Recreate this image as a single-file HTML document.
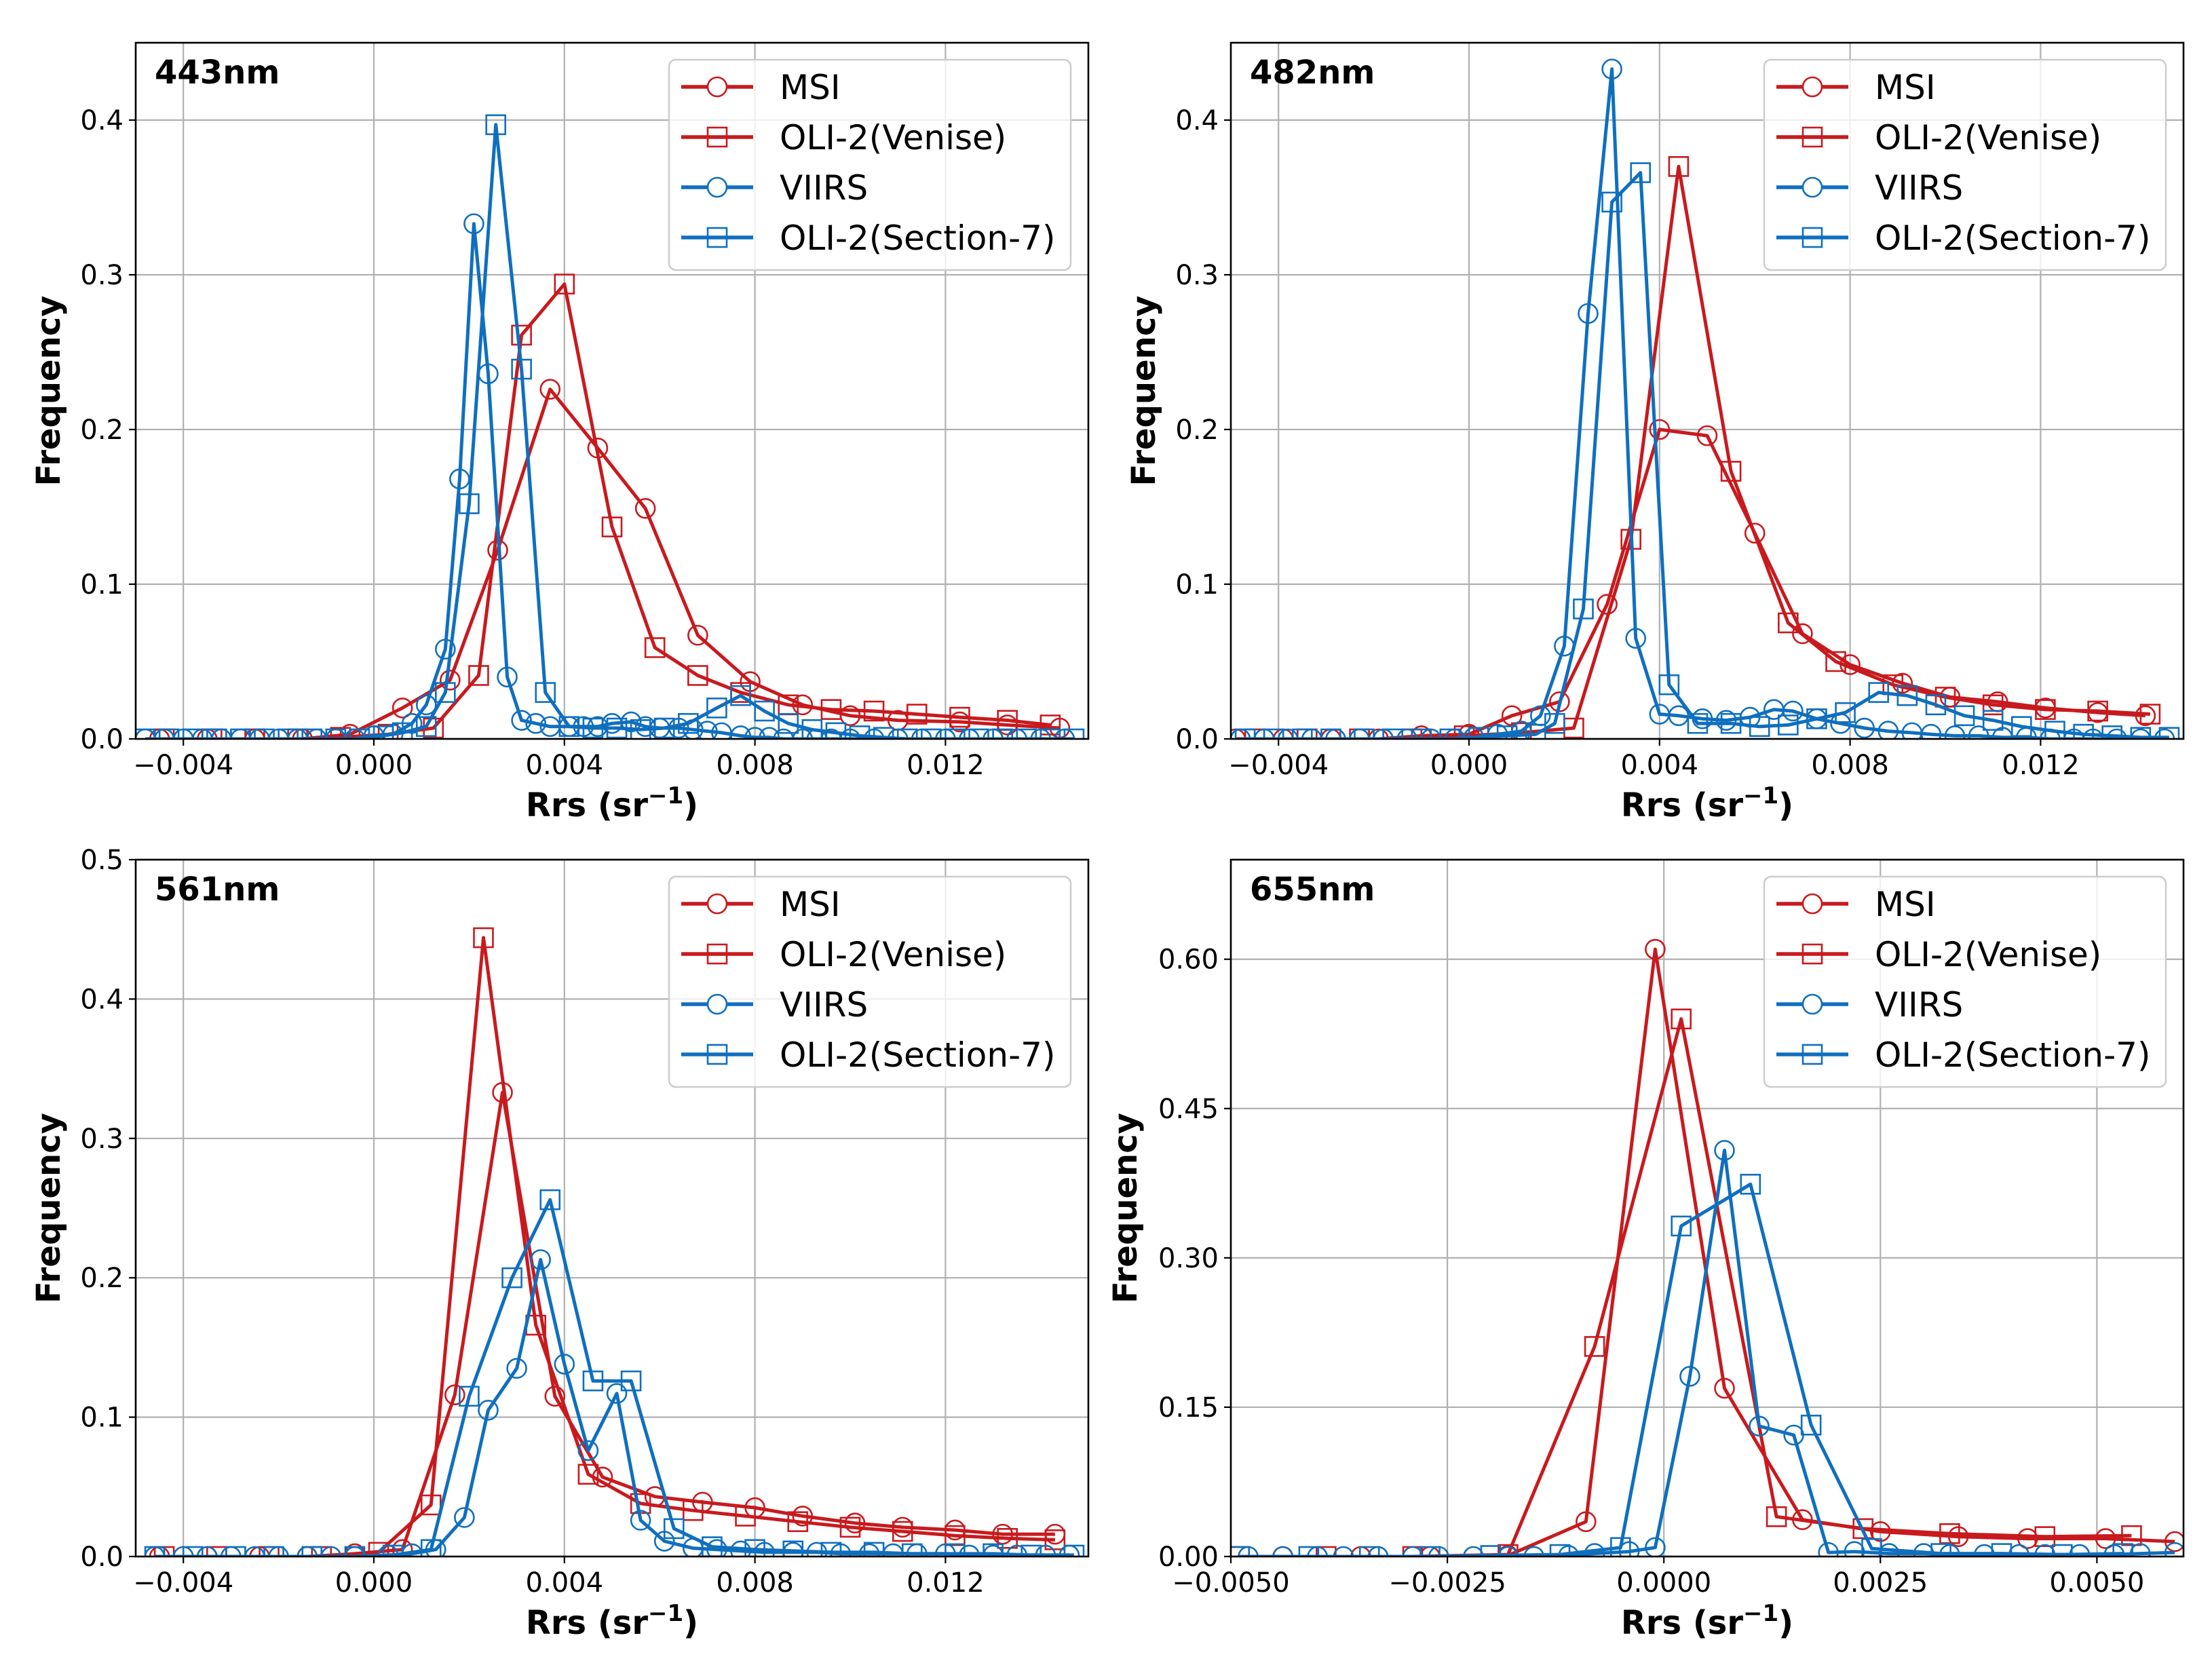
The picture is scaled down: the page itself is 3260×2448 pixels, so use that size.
<!DOCTYPE html>
<html><head><meta charset="utf-8">
<style>
html,body{margin:0;padding:0;background:#fff;}
svg{display:block;font-family:"DejaVu Sans","Liberation Sans",sans-serif;}
</style></head>
<body>
<svg id="fig" xmlns="http://www.w3.org/2000/svg" width="3260" height="2448" viewBox="0 0 3260 2448">
<rect x="0" y="0" width="3260" height="2448" fill="#fff"/>
</svg>
<script>
// ---------- Panel 1: 443nm ----------
const p1MsiX=[-0.0045,-0.0035,-0.0025,-0.0015,-0.0005,0.0006,0.0016,0.0026,0.0037,0.0047,0.0057,0.0068,0.0079,0.009,0.010,0.011,0.0123,0.0133,0.0144];
const p1MsiY=[0,0,0,0,0.003,0.020,0.038,0.122,0.226,0.188,0.149,0.067,0.037,0.022,0.015,0.012,0.011,0.009,0.007];
const p1VenX=[-0.0044,-0.0034,-0.0025,-0.0016,-0.0007,0.0003,0.00125,0.0022,0.0031,0.004,0.005,0.0059,0.0068,0.0077,0.0087,0.0096,0.0105,0.0114,0.0123,0.0133,0.0142];
const p1VenY=[0,0,0,0,0.001,0.003,0.007,0.041,0.261,0.294,0.137,0.059,0.041,0.030,0.022,0.019,0.018,0.016,0.014,0.012,0.009];
const p1ViiX=[-0.0048,-0.0044,-0.004,-0.0036,-0.0032,-0.0028,-0.0024,-0.002,-0.0016,-0.0012,-0.0008,-0.0004,0,0.0004,0.0008,0.0011,0.0015,0.0018,0.0021,0.0024,0.0028,0.0031,0.0034,0.0037,0.0041,0.0044,0.0047,0.005,0.0054,0.0057,0.006,0.0064,0.0067,0.007,0.0073,0.0077,0.008,0.0083,0.0086,0.009,0.0093,0.0096,0.01,0.0105,0.011,0.0115,0.012,0.0125,0.013,0.0135,0.014,0.0145];
const p1ViiY=[0,0,0,0,0,0,0,0,0,0,0,0,0.002,0.003,0.01,0.022,0.058,0.168,0.333,0.236,0.040,0.012,0.010,0.008,0.008,0.008,0.008,0.010,0.011,0.008,0.007,0.007,0.006,0.005,0.004,0.002,0.001,0.001,0,0,0,0,0,0,0,0,0,0,0,0,0,0];
const p1SecX=[-0.0048,-0.0043,-0.0038,-0.0033,-0.0028,-0.0023,-0.0018,-0.0013,-0.0008,-0.0003,0.0002,0.0006,0.0011,0.0015,0.002,0.00256,0.0031,0.0036,0.0041,0.0046,0.0051,0.0056,0.0061,0.0066,0.0072,0.0077,0.0082,0.0087,0.0092,0.0097,0.0102,0.0107,0.0112,0.0117,0.0122,0.0127,0.0132,0.0137,0.0142,0.0147];
const p1SecY=[0,0,0,0,0,0,0,0,0,0,0.002,0.004,0.008,0.030,0.152,0.397,0.239,0.030,0.008,0.007,0.007,0.006,0.007,0.010,0.020,0.028,0.018,0.010,0.006,0.004,0.002,0.001,0,0,0,0,0,0,0,0];
// ---------- Panel 2: 482nm ----------
const p2MsiX=[-0.0049,-0.0039,-0.0029,-0.0019,-0.001,0,0.0009,0.0019,0.0029,0.004,0.005,0.006,0.007,0.008,0.0091,0.0101,0.0111,0.0121,0.0132,0.0142];
const p2MsiY=[0,0,0,0,0.002,0.003,0.015,0.024,0.087,0.200,0.196,0.133,0.068,0.048,0.036,0.027,0.024,0.020,0.017,0.015];
const p2VenX=[-0.0045,-0.0034,-0.0023,-0.0012,-0.0001,0.0011,0.0022,0.0034,0.0044,0.0055,0.0067,0.0077,0.0089,0.01,0.011,0.0121,0.0132,0.0143];
const p2VenY=[0,0,0,0,0.002,0.004,0.007,0.129,0.370,0.173,0.075,0.050,0.035,0.027,0.022,0.019,0.018,0.016];
const p2ViiX=[-0.0048,-0.0043,-0.0038,-0.0033,-0.0028,-0.0023,-0.0018,-0.0013,-0.0008,-0.0003,0.0001,0.0006,0.0011,0.0015,0.002,0.0025,0.003,0.0035,0.004,0.0044,0.0049,0.0054,0.0059,0.0064,0.0068,0.0073,0.0078,0.0083,0.0088,0.0093,0.0097,0.0102,0.0107,0.0112,0.0117,0.0122,0.0127,0.0131,0.0136,0.0141,0.0146];
const p2ViiY=[0,0,0,0,0,0,0,0,0,0,0.001,0.003,0.005,0.015,0.060,0.275,0.433,0.065,0.016,0.015,0.013,0.012,0.014,0.019,0.018,0.013,0.010,0.007,0.005,0.004,0.003,0.002,0.002,0.001,0.001,0,0,0,0,0,0];
const p2SecX=[-0.0047,-0.0041,-0.0035,-0.0029,-0.0022,-0.0016,-0.001,-0.0004,0.0002,0.0008,0.0014,0.0018,0.0024,0.003,0.0036,0.0042,0.0048,0.0055,0.0061,0.0067,0.0073,0.0079,0.0086,0.0092,0.0098,0.0104,0.011,0.0116,0.0123,0.0129,0.0135,0.0141,0.0147];
const p2SecY=[0,0,0,0,0,0,0,0,0.001,0.002,0.003,0.01,0.084,0.347,0.366,0.035,0.010,0.010,0.008,0.009,0.013,0.017,0.030,0.028,0.022,0.015,0.012,0.008,0.005,0.003,0.002,0.001,0.001];
// ---------- Panel 3: 561nm ----------
const p3MsiX=[-0.0045,-0.0035,-0.0024,-0.0014,-0.0004,0.0006,0.0017,0.0027,0.0038,0.0048,0.0059,0.0069,0.008,0.009,0.0101,0.0111,0.0122,0.0132,0.0143];
const p3MsiY=[0,0,0,0,0.002,0.005,0.116,0.333,0.115,0.057,0.043,0.039,0.035,0.029,0.024,0.021,0.019,0.016,0.016];
const p3VenX=[-0.0044,-0.0033,-0.0022,-0.0011,0.0001,0.0012,0.0023,0.0034,0.0045,0.0056,0.0067,0.0078,0.0089,0.01,0.0111,0.0122,0.0133,0.0143];
const p3VenY=[0,0,0,0,0.003,0.037,0.444,0.166,0.059,0.038,0.033,0.029,0.025,0.021,0.018,0.015,0.013,0.012];
const p3ViiX=[-0.0046,-0.004,-0.0035,-0.003,-0.0025,-0.002,-0.0014,-0.0009,-0.0004,0.0003,0.0008,0.0013,0.0019,0.0024,0.003,0.0035,0.004,0.0045,0.0051,0.0056,0.0061,0.0067,0.0072,0.0077,0.0082,0.0088,0.0093,0.0098,0.0104,0.0109,0.0114,0.012,0.0125,0.013,0.0135,0.0141,0.0146];
const p3ViiY=[0,0,0,0,0,0,0,0,0,0.001,0.002,0.005,0.028,0.105,0.135,0.213,0.138,0.076,0.117,0.026,0.011,0.006,0.005,0.004,0.003,0.003,0.003,0.002,0.002,0.002,0.002,0.002,0.001,0.001,0.001,0.001,0.001];
const p3SecX=[-0.0046,-0.0038,-0.0029,-0.0021,-0.0013,-0.0004,0.0004,0.0012,0.002,0.0029,0.0037,0.0046,0.0054,0.0063,0.0071,0.008,0.0088,0.0096,0.0105,0.0113,0.0122,0.013,0.0138,0.0147];
const p3SecY=[0,0,0,0,0,0,0.001,0.005,0.115,0.200,0.256,0.126,0.126,0.020,0.007,0.005,0.004,0.003,0.003,0.002,0.002,0.002,0.001,0.001];
// ---------- Panel 4: 655nm ----------
const p4MsiX=[-0.0044,-0.0035,-0.0027,-0.0018,-0.0009,-0.0001,0.0007,0.0016,0.0025,0.0034,0.0042,0.0051,0.0059];
const p4MsiY=[0,0,0,0.001,0.035,0.610,0.169,0.037,0.025,0.020,0.018,0.018,0.015];
const p4VenX=[-0.0049,-0.0039,-0.0029,-0.0018,-0.0008,0.0002,0.0013,0.0023,0.0033,0.0044,0.0054];
const p4VenY=[0,0,0,0.002,0.211,0.540,0.040,0.028,0.023,0.020,0.021];
const p4ViiX=[-0.0048,-0.0044,-0.004,-0.0037,-0.0033,-0.0029,-0.0026,-0.0022,-0.0018,-0.0015,-0.0011,-0.0008,-0.0004,-0.0001,0.0003,0.0007,0.0011,0.0015,0.0019,0.0022,0.0026,0.003,0.0033,0.0037,0.0041,0.0044,0.0048,0.0052,0.0055,0.0059];
const p4ViiY=[0,0,0,0,0,0,0,0,0,0,0.001,0.003,0.005,0.009,0.181,0.408,0.131,0.122,0.004,0.005,0.003,0.003,0.002,0.002,0.002,0.002,0.002,0.002,0.003,0.004];
const p4SecX=[-0.0049,-0.0041,-0.0034,-0.0027,-0.002,-0.0012,-0.0005,0.0002,0.001,0.0017,0.0024,0.0032,0.0039,0.0046,0.0053];
const p4SecY=[0,0,0,0,0.001,0.002,0.009,0.332,0.374,0.132,0.008,0.003,0.003,0.002,0.003];

const xTicksA=[-0.004,0,0.004,0.008,0.012];
const xTickLabelsA=["\u22120.004","0.000","0.004","0.008","0.012"];
const xTicksB=[-0.005,-0.0025,0,0.0025,0.005];
const xTickLabelsB=["\u22120.0050","\u22120.0025","0.0000","0.0025","0.0050"];
const yTicksA=[0,0.1,0.2,0.3,0.4];
const yTickLabelsA=["0.0","0.1","0.2","0.3","0.4"];
const yTicksC=[0,0.1,0.2,0.3,0.4,0.5];
const yTickLabelsC=["0.0","0.1","0.2","0.3","0.4","0.5"];
const yTicksD=[0,0.15,0.30,0.45,0.60];
const yTickLabelsD=["0.00","0.15","0.30","0.45","0.60"];
const seriesNames=["MSI","OLI-2(Venise)","VIIRS","OLI-2(Section-7)"];

const RED="#c81a1e", BLUE="#0f6fbf";
const NS="http://www.w3.org/2000/svg";
const svg=document.getElementById('fig');
function mk(tag,attrs,parent){const e=document.createElementNS(NS,tag);for(const k in attrs)e.setAttribute(k,attrs[k]);(parent||svg).appendChild(e);return e;}

function panel(cfg){
  const g=mk('g',{});
  
  
  const L=cfg.L,R=cfg.R,T=cfg.T,B=cfg.B;
  const sx=v=>L+(v-cfg.x0)/(cfg.x1-cfg.x0)*(R-L);
  const sy=v=>B-(v-cfg.y0)/(cfg.y1-cfg.y0)*(B-T);
  cfg.xt.forEach((t,i)=>{
    const x=sx(t);
    const gl=mk('line',{x1:x,x2:x,y1:T,y2:B,stroke:"#b0b0b0","stroke-width":2.2},g);
    
    
    mk('line',{x1:x,x2:x,y1:B,y2:B+10,stroke:"#000","stroke-width":2.2},g);
    const tl=mk('text',{x:x,y:B+52,"text-anchor":"middle","font-size":40,fill:"#000"},g);
    tl.textContent=cfg.xl[i];
    
    
  });
  cfg.yt.forEach((t,i)=>{
    const y=sy(t);
    const gl=mk('line',{x1:L,x2:R,y1:y,y2:y,stroke:"#b0b0b0","stroke-width":2.2},g);
    
    
    mk('line',{x1:L-10,x2:L,y1:y,y2:y,stroke:"#000","stroke-width":2.2},g);
    const tl=mk('text',{x:L-18,y:y+14,"text-anchor":"end","font-size":40,fill:"#000"},g);
    tl.textContent=cfg.yl[i];
    
    
  });
  const cid='clip'+cfg.id;
  const cp=mk('clipPath',{id:cid},g);
  mk('rect',{x:L,y:T,width:R-L,height:B-T},cp);
  const plot=mk('g',{'clip-path':'url(#'+cid+')'},g);
  const series=[
    {x:cfg.msiX,y:cfg.msiY,c:RED,m:'o',n:'msi'},
    {x:cfg.venX,y:cfg.venY,c:RED,m:'s',n:'oli2-venise'},
    {x:cfg.viiX,y:cfg.viiY,c:BLUE,m:'o',n:'viirs'},
    {x:cfg.secX,y:cfg.secY,c:BLUE,m:'s',n:'oli2-section7'}];
  series.forEach(s=>{
    const n=Math.min(s.x.length,s.y.length);
    let d='';
    for(let i=0;i<n;i++) d+=(i?'L':'M')+sx(s.x[i]).toFixed(1)+','+sy(s.y[i]).toFixed(1);
    const p=mk('path',{d:d,fill:"none",stroke:s.c,"stroke-width":5,"stroke-linejoin":"round"},plot);
    
    
    for(let i=0;i<n;i++){
      const cx=sx(s.x[i]),cy=sy(s.y[i]);
      let e;
      if(s.m==='o') e=mk('circle',{cx:cx,cy:cy,r:14,fill:"none",stroke:s.c,"stroke-width":2.6},plot);
      else e=mk('rect',{x:cx-14,y:cy-14,width:28,height:28,fill:"none",stroke:s.c,"stroke-width":2.6},plot);
      
      
    }
  });
  const fr=mk('rect',{x:L,y:T,width:R-L,height:B-T,fill:"none",stroke:"#000","stroke-width":2.6},g);
  
  
  const tt=mk('text',{x:L+28,y:T+60,"font-size":48,"font-weight":"bold",fill:"#000"},g);
  tt.textContent=cfg.title;
  
  
  const xl=mk('text',{x:(L+R)/2,y:B+114,"text-anchor":"middle","font-size":48,"font-weight":"bold",fill:"#000"},g);
  xl.innerHTML='Rrs (sr<tspan dy="-19" font-size="34">\u22121</tspan><tspan dy="19">)</tspan>';
  
  
  const yx=cfg.ylx;
  const yl=mk('text',{x:yx,y:(T+B)/2,"text-anchor":"middle","font-size":48,"font-weight":"bold",fill:"#000",transform:'rotate(-90 '+yx+' '+(T+B)/2+')'},g);
  yl.textContent='Frequency';
  
  
  const lg=mk('g',{},g);
  
  
  const bx=R-26-592, by=T+25;
  mk('rect',{x:bx,y:by,width:592,height:310,rx:10,fill:"#fff","fill-opacity":0.8,stroke:"#cccccc","stroke-width":2.5},lg);
  const lc=[RED,RED,BLUE,BLUE], lm=['o','s','o','s'];
  seriesNames.forEach((nm,i)=>{
    const y=by+40+i*74;
    const en=mk('g',{},lg);
    
    
    mk('line',{x1:bx+18,x2:bx+124,y1:y,y2:y,stroke:lc[i],"stroke-width":5.5},en);
    if(lm[i]==='o') mk('circle',{cx:bx+71,cy:y,r:14,fill:"#fff",stroke:lc[i],"stroke-width":2.6},en);
    else {mk('rect',{x:bx+57,y:y-14,width:28,height:28,fill:"none",stroke:lc[i],"stroke-width":2.6},en);}
    const t=mk('text',{x:bx+163,y:y+18,"font-size":50,fill:"#000"},en);
    t.textContent=nm;
  });
}

panel({id:1,name:'panel-443nm',title:'443nm',L:200,R:1604,T:63,B:1089,x0:-0.005,x1:0.015,y0:0,y1:0.45,xt:xTicksA,xl:xTickLabelsA,yt:yTicksA,yl:yTickLabelsA,ylx:88,
  msiX:p1MsiX,msiY:p1MsiY,venX:p1VenX,venY:p1VenY,viiX:p1ViiX,viiY:p1ViiY,secX:p1SecX,secY:p1SecY});
panel({id:2,name:'panel-482nm',title:'482nm',L:1814,R:3218,T:63,B:1089,x0:-0.005,x1:0.015,y0:0,y1:0.45,xt:xTicksA,xl:xTickLabelsA,yt:yTicksA,yl:yTickLabelsA,ylx:1702,
  msiX:p2MsiX,msiY:p2MsiY,venX:p2VenX,venY:p2VenY,viiX:p2ViiX,viiY:p2ViiY,secX:p2SecX,secY:p2SecY});
panel({id:3,name:'panel-561nm',title:'561nm',L:200,R:1604,T:1267,B:2294,x0:-0.005,x1:0.015,y0:0,y1:0.5,xt:xTicksA,xl:xTickLabelsA,yt:yTicksC,yl:yTickLabelsC,ylx:88,
  msiX:p3MsiX,msiY:p3MsiY,venX:p3VenX,venY:p3VenY,viiX:p3ViiX,viiY:p3ViiY,secX:p3SecX,secY:p3SecY});
panel({id:4,name:'panel-655nm',title:'655nm',L:1814,R:3218,T:1267,B:2294,x0:-0.005,x1:0.006,y0:0,y1:0.70,xt:xTicksB,xl:xTickLabelsB,yt:yTicksD,yl:yTickLabelsD,ylx:1675,
  msiX:p4MsiX,msiY:p4MsiY,venX:p4VenX,venY:p4VenY,viiX:p4ViiX,viiY:p4ViiY,secX:p4SecX,secY:p4SecY});
</script>
</body></html>
